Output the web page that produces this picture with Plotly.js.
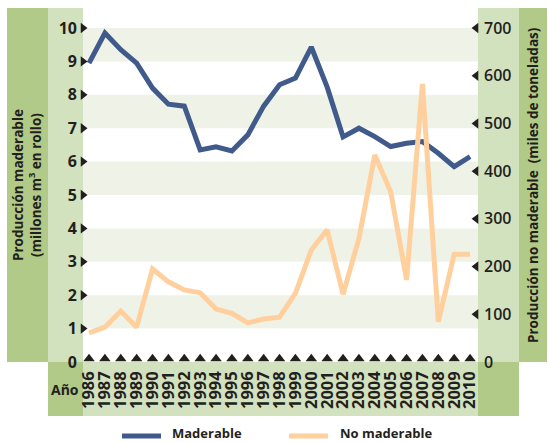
<!DOCTYPE html>
<html>
<head>
<meta charset="utf-8">
<script src="https://cdn.plot.ly/plotly-3.0.1.min.js"></script>
<style>html,body{margin:0;padding:0;background:#fff;}#chart{width:548px;height:443px;}</style>
</head>
<body>
<div id="chart"></div>
<script>
// ---- data ----
const years = [1986,1987,1988,1989,1990,1991,1992,1993,1994,1995,1996,1997,1998,1999,2000,2001,2002,2003,2004,2005,2006,2007,2008,2009,2010];
// Producción maderable (millones m3 en rollo)
const maderable = [8.95,9.85,9.35,8.95,8.2,7.72,7.66,6.35,6.44,6.32,6.8,7.66,8.3,8.5,9.43,8.23,6.74,7.0,6.75,6.45,6.55,6.6,6.25,5.85,6.15];
// Producción no maderable (miles de toneladas)
const noMaderable = [61,73,107,73,195,168,151,145,111,102,82,90,94,144,235,277,142,259,434,357,172,583,84,226,226];
const leftTicks = [0,1,2,3,4,5,6,7,8,9,10];
const rightTicks = [0,100,200,300,400,500,600,700];
const seriesNames = ["Maderable","No maderable"];

// ---- style ----
const BLUE = "#3f5a8b", ORANGE = "#ffd09e";
const DARK = "#b2ca87", LIGHT = "#d2e1be", BAND = "#eff3e7";
const FONT = "Open Sans";
const TXT = "#231f20";
const xr = [1985.62, 2010.5];

const P = px => (px - 83) / 395;     // paper x from pixel
const Q = py => (362 - py) / 334;     // paper y from pixel

const shapes = [];
const rect = (x0,x1,y0,y1,c) => shapes.push({type:"rect",xref:"paper",yref:"paper",x0,x1,y0,y1,fillcolor:c,line:{width:0},layer:"below"});
rect(P(7), P(48), 0, Q(8), DARK);
rect(P(48), 0, 0, Q(8), LIGHT);
rect(P(48), 0, Q(416), 0, DARK);
rect(0, 1, Q(416), 0, LIGHT);
rect(1, P(519), 0, Q(8), LIGHT);
rect(1, P(519), Q(416), 0, DARK);
rect(P(519), P(547), 0, Q(8), DARK);
// stripes
for (let v = 1; v < 10; v += 2) {
  shapes.push({type:"rect",xref:"paper",yref:"y",x0:0,x1:1,y0:v,y1:v+1,fillcolor:BAND,line:{width:0},layer:"below"});
}
// legend lines
shapes.push({type:"line",xref:"paper",yref:"paper",x0:P(122),x1:P(161),y0:Q(436),y1:Q(436),line:{color:BLUE,width:5}});
shapes.push({type:"line",xref:"paper",yref:"paper",x0:P(289),x1:P(328),y0:Q(436),y1:Q(436),line:{color:ORANGE,width:5}});

const annotations = [
  {text:"<b>Producción maderable<br>(millones m<sup>3</sup> en rollo)</b>", xref:"paper", yref:"paper", x:P(27), y:Q(185), textangle:-90, showarrow:false, font:{family:FONT,size:13.5,color:TXT}, xanchor:"center", yanchor:"middle"},
  {text:"<b>Producción no maderable  (miles de toneladas)</b>", xref:"paper", yref:"paper", x:P(533), y:Q(185), textangle:-90, showarrow:false, font:{family:FONT,size:13.5,color:TXT}, xanchor:"center", yanchor:"middle"},
  {text:"<b>Año</b>", xref:"paper", yref:"paper", x:P(65), y:Q(389), showarrow:false, font:{family:FONT,size:14,color:TXT}, xanchor:"center", yanchor:"middle"},
  {text:"<b>"+seriesNames[0]+"</b>", xref:"paper", yref:"paper", x:P(170), y:Q(433), showarrow:false, font:{family:FONT,size:13,color:TXT}, xanchor:"left", yanchor:"middle"},
  {text:"<b>"+seriesNames[1]+"</b>", xref:"paper", yref:"paper", x:P(338), y:Q(433), showarrow:false, font:{family:FONT,size:13,color:TXT}, xanchor:"left", yanchor:"middle"}
];

const leftTri = leftTicks.filter(v => v > 0);
const rightTri = rightTicks.filter(v => v > 0);

const traces = [
  {x:years, y:maderable, name:seriesNames[0], type:"scatter", mode:"lines", line:{color:BLUE,width:5}, yaxis:"y"},
  {x:years, y:noMaderable, name:seriesNames[1], type:"scatter", mode:"lines", line:{color:ORANGE,width:5}, yaxis:"y2"},
  // tick triangles
  {x:leftTri.map(()=>xr[0]), y:leftTri, type:"scatter", mode:"markers", marker:{symbol:"triangle-right",size:9,color:TXT}, cliponaxis:false, hoverinfo:"skip"},
  {x:rightTri.map(()=>xr[1]-0.12), y:rightTri, type:"scatter", mode:"markers", marker:{symbol:"triangle-left",size:9,color:TXT}, cliponaxis:false, hoverinfo:"skip", yaxis:"y2"},
  {x:years, y:years.map(()=>0.1), type:"scatter", mode:"markers", marker:{symbol:"triangle-up",size:10,color:TXT}, cliponaxis:false, hoverinfo:"skip"}
];

const layout = {
  width:548, height:443,
  margin:{l:83, r:70, t:28, b:81, pad:0},
  paper_bgcolor:"#fff", plot_bgcolor:"#fff",
  showlegend:false,
  xaxis:{range:xr, tickvals:years, ticktext:years.map(String), tickangle:-90, showgrid:false, zeroline:false, showline:false, ticks:"", ticklabelstandoff:5, tickfont:{family:FONT,size:16.5,color:TXT,weight:700}, fixedrange:true},
  yaxis:{range:[0,10], tickvals:leftTicks, ticktext:leftTicks.map(String), showgrid:false, zeroline:false, showline:false, ticks:"", ticklabelstandoff:5, tickfont:{family:FONT,size:16,color:TXT,weight:700}},
  yaxis2:{range:[0,700], overlaying:"y", side:"right", tickvals:rightTicks, ticktext:rightTicks.map(String), showgrid:false, zeroline:false, showline:false, ticks:"", ticklabelstandoff:5, tickfont:{family:FONT,size:16,color:TXT,weight:600}},
  shapes, annotations
};

Plotly.newPlot("chart", traces, layout, {displayModeBar:false, staticPlot:true});
</script>
</body>
</html>
